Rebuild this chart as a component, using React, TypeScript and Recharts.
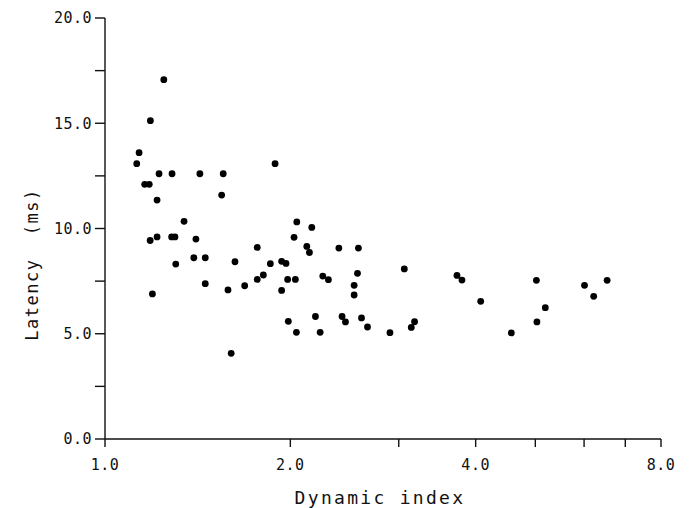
import React from "react";
import { ScatterChart, Scatter, XAxis, YAxis } from "recharts";

// Dynamic index (x, log scale) and latency in ms (y)
const dynamicIndex = [
  1.246, 1.185, 1.136, 1.126, 1.224, 1.285, 1.426, 1.556, 1.889, 1.16,
  1.18, 1.215, 1.547, 1.344, 2.049, 1.184, 1.215, 1.283, 1.299, 1.405,
  2.028, 2.167, 2.127, 2.148, 1.767, 1.394, 1.455, 1.303, 1.626, 1.856,
  1.936, 1.968, 1.98, 2.038, 1.767, 1.808, 1.686, 1.584, 1.455, 1.936,
  1.194, 1.985, 2.046, 1.603, 2.398, 2.58, 2.258, 2.306, 2.571, 2.539,
  2.539, 3.063, 3.73, 3.8, 4.076, 2.197, 2.236, 2.427, 2.458, 2.61,
  2.669, 2.903, 3.144, 3.183, 5.02, 6.01, 6.54, 6.22, 5.19, 5.03, 4.57,
];
const latency = [
  17.07, 15.12, 13.6, 13.08, 12.6, 12.6, 12.6, 12.6, 13.08, 12.1,
  12.1, 11.35, 11.59, 10.34, 10.31, 9.43, 9.6, 9.6, 9.6, 9.5,
  9.58, 10.05, 9.15, 8.86, 9.1, 8.61, 8.61, 8.31, 8.42, 8.33,
  8.44, 8.34, 7.58, 7.58, 7.58, 7.79, 7.28, 7.08, 7.38, 7.06,
  6.89, 5.59, 5.07, 4.07, 9.07, 9.07, 7.74, 7.57, 7.87, 7.3,
  6.84, 8.08, 7.77, 7.55, 6.54, 5.82, 5.07, 5.82, 5.56, 5.75,
  5.32, 5.05, 5.3, 5.57, 7.54, 7.3, 7.54, 6.78, 6.24, 5.56, 5.04,
];

const xTicks = [1, 2, 3, 4, 5, 6, 7, 8];
const xLabelled = [1, 2, 4, 8];
const yTicks = [0, 2.5, 5, 7.5, 10, 12.5, 15, 17.5, 20];

const points = dynamicIndex.map((x, i) => ({ x, y: latency[i] }));

const FONT = "'DejaVu Sans Mono', monospace";
const INK = "#111";

const YTitle = ({ viewBox }: any) => {
  const cx = viewBox.x + 24;
  const cy = viewBox.y + viewBox.height / 2 + 36;
  return (
    <text
      x={cx}
      y={cy}
      transform={`rotate(-90 ${cx} ${cy})`}
      textAnchor="middle"
      dominantBaseline="central"
      fontFamily={FONT}
      fontSize={17}
      letterSpacing={1.5}
      fill={INK}
      style={{ whiteSpace: "pre" }}
    >
      {"Latency  (ms)"}
    </text>
  );
};

const XTitle = ({ viewBox }: any) => (
  <text
    x={viewBox.x + viewBox.width / 2 - 3}
    y={viewBox.y + 65}
    textAnchor="middle"
    fontFamily={FONT}
    fontSize={18}
    letterSpacing={2.3}
    fill={INK}
  >
    Dynamic index
  </text>
);

export default function App() {
  return (
    <div style={{ width: 683, height: 500, background: "#fff" }}>
      <ScatterChart width={683} height={500} margin={{ top: 10, right: 30, left: 0, bottom: 0 }}>
        <XAxis
          type="number"
          dataKey="x"
          scale="log"
          domain={[1, 8]}
          ticks={xTicks}
          allowDataOverflow
          tickFormatter={(v: number) => (xLabelled.includes(v) ? v.toFixed(1) : "")}
          height={69}
          tickSize={8}
          tickMargin={12}
          axisLine={{ stroke: INK, strokeWidth: 1.4 }}
          tickLine={{ stroke: INK, strokeWidth: 1.4 }}
          tick={{ fill: INK, fontFamily: FONT, fontSize: 15, letterSpacing: 0.5 }}
          label={{ content: <XTitle /> }}
        />
        <YAxis
          type="number"
          dataKey="y"
          domain={[0, 20]}
          ticks={yTicks}
          tickFormatter={(v: number) => (v % 5 === 0 ? v.toFixed(1) : "")}
          width={97}
          tickSize={10}
          tickMargin={3}
          axisLine={{ stroke: INK, strokeWidth: 1.4 }}
          tickLine={{ stroke: INK, strokeWidth: 1.4 }}
          tick={{ fill: INK, fontFamily: FONT, fontSize: 15, letterSpacing: 0.5 }}
          label={{ content: <YTitle /> }}
        />
        <Scatter
          data={points}
          fill="#000"
          isAnimationActive={false}
          shape={(p: any) => <circle cx={p.cx} cy={p.cy} r={3.4} fill="#000" />}
        />
      </ScatterChart>
    </div>
  );
}
